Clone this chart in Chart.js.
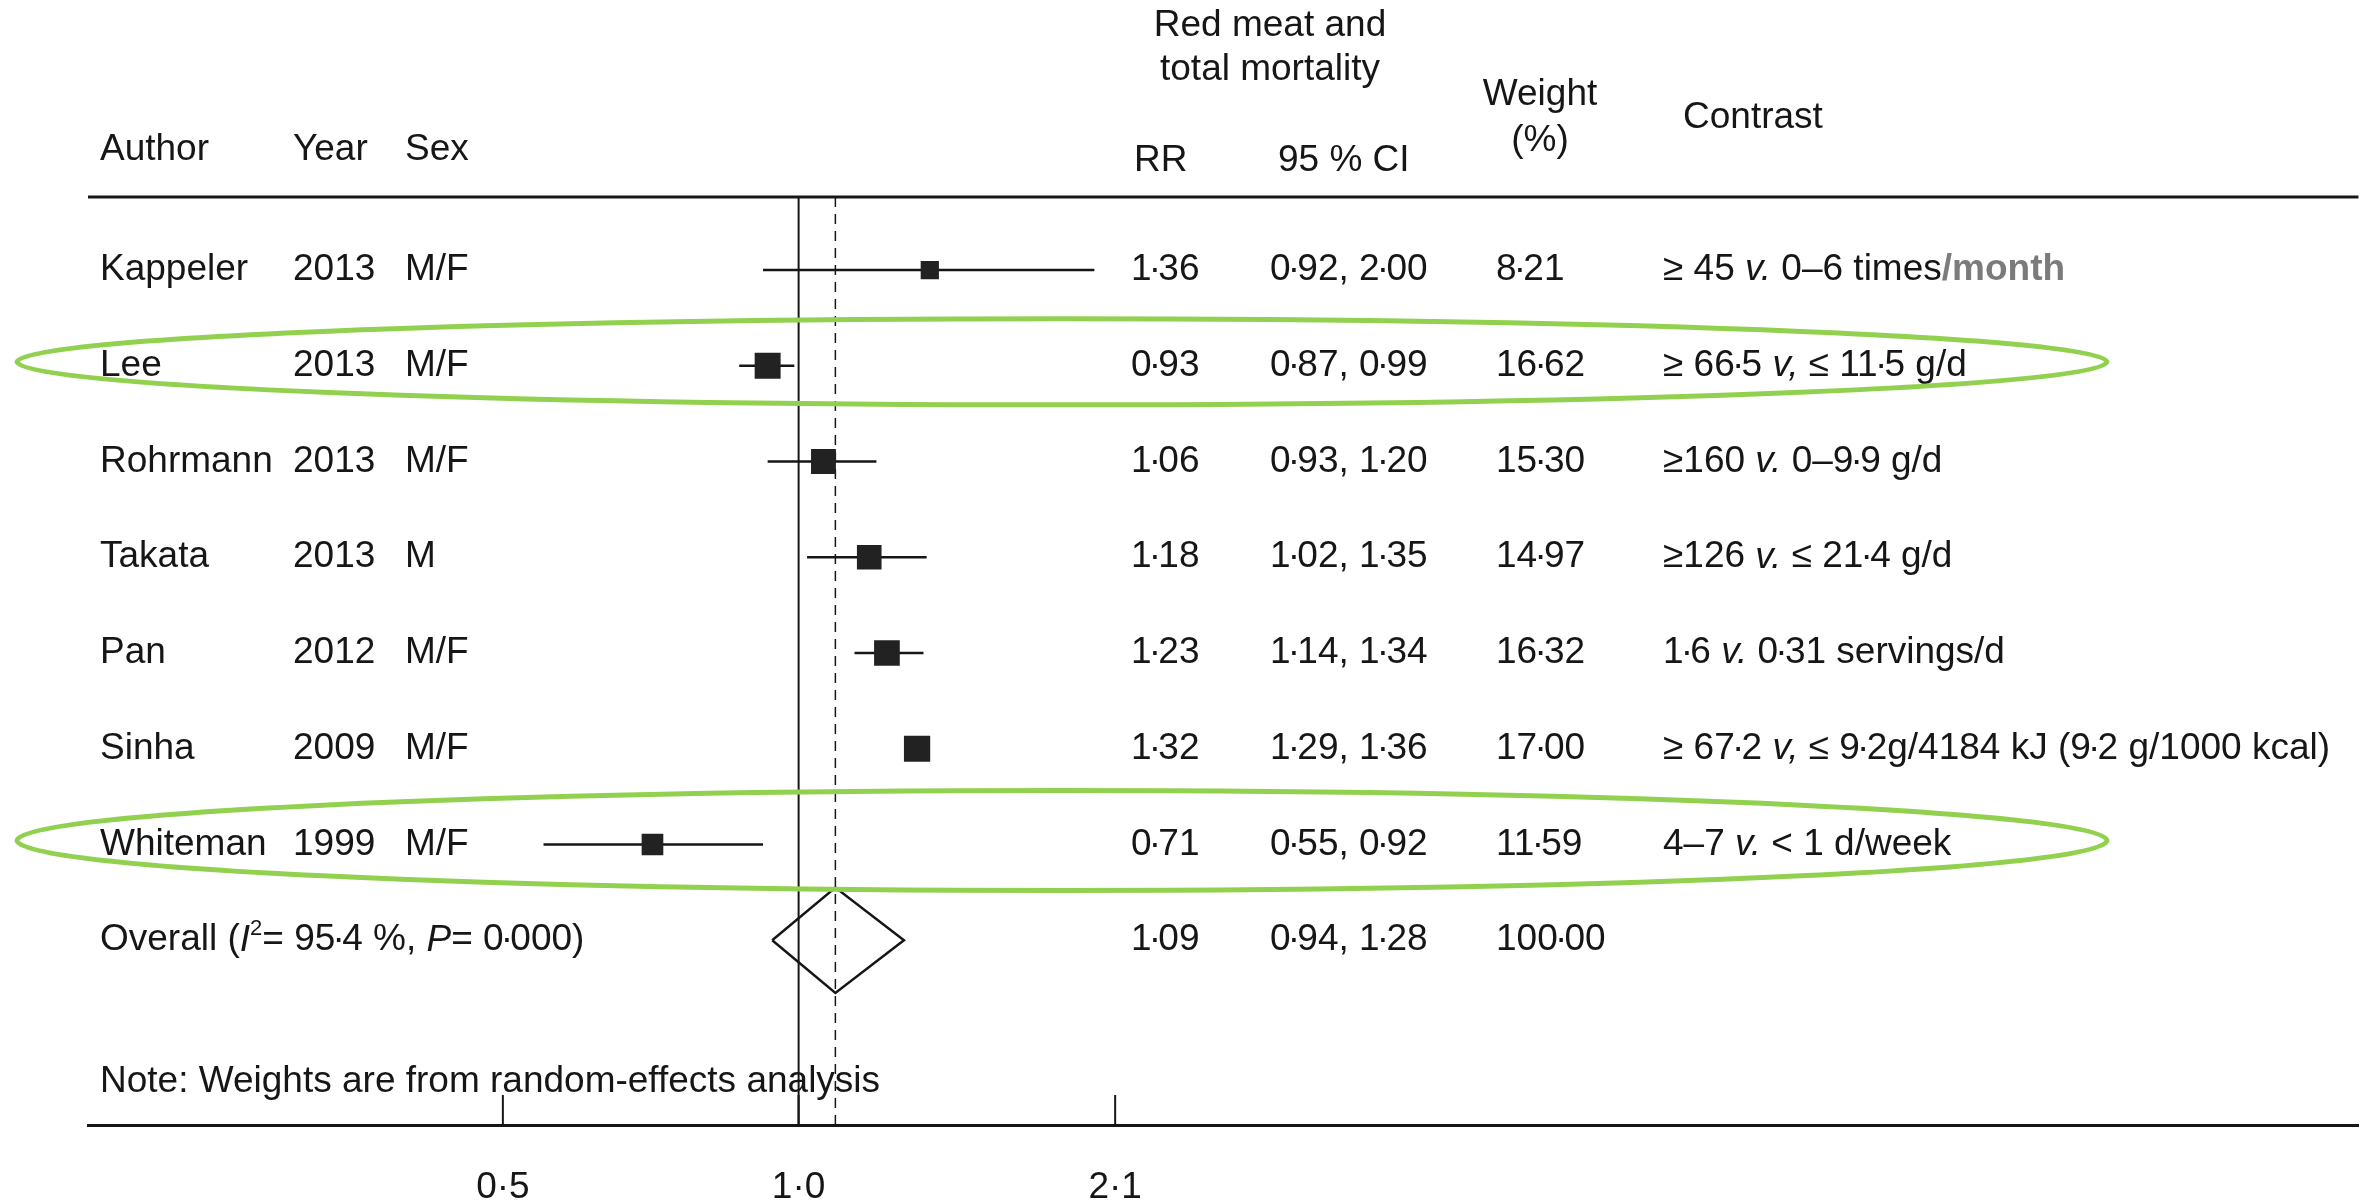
<!DOCTYPE html>
<html lang="en">
<head>
<meta charset="UTF-8">
<title>Red meat and total mortality</title>
<script src="https://cdn.jsdelivr.net/npm/chart.js"></script>
<style>
  html, body { margin: 0; padding: 0; background: #fff; }
  .wrap { position: relative; width: 2377px; height: 1200px; }
</style>
</head>
<body>
<div class="wrap"><canvas id="forest"></canvas></div>
<script>
// studies, top to bottom
const authors = ['Kappeler', 'Lee', 'Rohrmann', 'Takata', 'Pan', 'Sinha', 'Whiteman'];
const years = [2013, 2013, 2013, 2013, 2012, 2009, 1999];
const sexes = ['M/F', 'M/F', 'M/F', 'M', 'M/F', 'M/F', 'M/F'];
const rr = [1.36, 0.93, 1.06, 1.18, 1.23, 1.32, 0.71];
const ciLow = [0.92, 0.87, 0.93, 1.02, 1.14, 1.29, 0.55];
const ciHigh = [2.00, 0.99, 1.20, 1.35, 1.34, 1.36, 0.92];
const weights = [8.21, 16.62, 15.30, 14.97, 16.32, 17.00, 11.59];
const contrasts = [
  '≥ 45 v. 0–6 times/month',
  '≥ 66·5 v, ≤ 11·5 g/d',
  '≥160 v. 0–9·9 g/d',
  '≥126 v. ≤ 21·4 g/d',
  '1·6 v. 0·31 servings/d',
  '≥ 67·2 v, ≤ 9·2g/4184 kJ (9·2 g/1000 kcal)',
  '4–7 v. < 1 d/week'
];
// pooled (random effects)
const overallRR = 1.09;
const overallLow = 0.94;
const overallHigh = 1.28;
const overallWeight = 100.00;
const iSquared = 95.4;
const pValue = 0.000;
// x axis
const xTicks = [0.5, 1.0, 2.1];
// rows circled in green
const circled = ['Lee', 'Whiteman'];

const FAMILY = '"Liberation Sans", Arial, sans-serif';
const FS = 37;
const INK = '#161616';
const fmt = (v, d) => v.toFixed(d).replace('.', '·');

const overallRow = authors.length;
const yMin = -0.763, yMax = 8.93;

// columns (px)
const col = { author: 100, year: 293, sex: 405, rr: 1131, ci: 1270, weight: 1496, contrast: 1663 };

function setFont(ctx, seg, size) {
  ctx.font = (seg.italic ? 'italic ' : '') + (seg.bold ? 'bold ' : '') + size + 'px ' + FAMILY;
}

// text with a tight decimal point (the journal's raised dot is narrow)
function drawText(ctx, str, x, y) {
  const parts = str.split('·');
  const dotW = ctx.measureText('·').width;
  const adv = dotW * 0.55;
  let cx = x;
  parts.forEach((p, k) => {
    if (k > 0) {
      ctx.fillText('·', cx - (dotW - adv) / 2, y);
      cx += adv;
    }
    ctx.fillText(p, cx, y);
    cx += ctx.measureText(p).width;
  });
  return cx - x;
}

// draw a list of text pieces one after another
function drawRich(ctx, x, y, segs) {
  let cx = x;
  segs.forEach(s => {
    const size = s.sup ? Math.round(FS * 0.6) : FS;
    setFont(ctx, s, size);
    ctx.fillStyle = s.color || INK;
    cx += drawText(ctx, s.t, cx, s.sup ? y - FS * 0.3 : y);
  });
}

function contrastSegs(str) {
  const out = [];
  str.split(/( v[.,] |\/month)/).filter(Boolean).forEach(p => {
    if (/^ v[.,] $/.test(p)) {
      out.push({ t: ' ' }, { t: p.trim(), italic: true }, { t: ' ' });
    } else if (p === '/month') {
      out.push({ t: p, color: '#7b7b7b', bold: true });
    } else {
      out.push({ t: p });
    }
  });
  return out;
}

const tablePlugin = {
  id: 'table',
  afterDatasetsDraw(chart) {
    const ctx = chart.ctx;
    const area = chart.chartArea;
    const y = chart.scales.y;
    const x = chart.scales.x;
    ctx.save();
    ctx.textBaseline = 'middle';

    // header rule
    ctx.strokeStyle = INK;
    ctx.lineWidth = 3;
    ctx.beginPath();
    ctx.moveTo(area.left, area.top);
    ctx.lineTo(area.right, area.top);
    ctx.stroke();

    // tick marks pointing up from the axis
    ctx.lineWidth = 2;
    x.ticks.forEach(t => {
      const px = x.getPixelForValue(t.value);
      ctx.beginPath();
      ctx.moveTo(px, area.bottom);
      ctx.lineTo(px, area.bottom - 30);
      ctx.stroke();
    });

    // header text
    ctx.fillStyle = INK;
    ctx.font = FS + 'px ' + FAMILY;
    ctx.textAlign = 'center';
    ctx.fillText('Red meat and', 1270, 26);
    ctx.fillText('total mortality', 1270, 70);
    ctx.fillText('Weight', 1540, 95);
    ctx.fillText('(%)', 1540, 141);
    ctx.textAlign = 'left';
    ctx.fillText('Author', col.author, 150);
    ctx.fillText('Year', col.year, 150);
    ctx.fillText('Sex', col.sex, 150);
    ctx.fillText('Contrast', 1683, 118);
    ctx.fillText('RR', 1134, 161);
    ctx.fillText('95 % CI', 1278, 161);

    // study rows
    authors.forEach((a, i) => {
      const py = y.getPixelForValue(i);
      ctx.font = FS + 'px ' + FAMILY;
      ctx.fillStyle = INK;
      ctx.fillText(a, col.author, py);
      ctx.fillText(String(years[i]), col.year, py);
      ctx.fillText(sexes[i], col.sex, py);
      drawText(ctx, fmt(rr[i], 2), col.rr, py);
      drawText(ctx, fmt(ciLow[i], 2) + ', ' + fmt(ciHigh[i], 2), col.ci, py);
      drawText(ctx, fmt(weights[i], 2), col.weight, py);
      drawRich(ctx, col.contrast, py, contrastSegs(contrasts[i]));
    });

    // overall row
    const oy = y.getPixelForValue(overallRow);
    drawRich(ctx, col.author, oy, [
      { t: 'Overall (' }, { t: 'I', italic: true }, { t: '2', sup: true },
      { t: '= ' + fmt(iSquared, 1) + ' %, ' }, { t: 'P', italic: true },
      { t: '= ' + fmt(pValue, 3) + ')' }
    ]);
    ctx.font = FS + 'px ' + FAMILY;
    ctx.fillStyle = INK;
    drawText(ctx, fmt(overallRR, 2), col.rr, oy);
    drawText(ctx, fmt(overallLow, 2) + ', ' + fmt(overallHigh, 2), col.ci, oy);
    drawText(ctx, fmt(overallWeight, 2), col.weight, oy);

    ctx.fillText('Note: Weights are from random-effects analysis', col.author, y.getPixelForValue(8.48));

    // green rings
    ctx.strokeStyle = '#92d050';
    ctx.lineWidth = 5;
    const ry = { Lee: 43, Whiteman: 50 };
    circled.forEach(name => {
      const i = authors.indexOf(name);
      const py = y.getPixelForValue(i) - 4;
      ctx.beginPath();
      ctx.ellipse(1062, py, 1045, ry[name] || 45, 0, 0, Math.PI * 2);
      ctx.stroke();
    });
    ctx.restore();
  }
};

const datasets = [];
// confidence intervals
authors.forEach((a, i) => {
  datasets.push({
    label: a + ' CI',
    data: [{ x: ciLow[i], y: i }, { x: ciHigh[i], y: i }],
    showLine: true,
    borderColor: INK,
    borderWidth: 2.5,
    pointRadius: 0,
    order: 2
  });
});
// point estimates, box area proportional to weight
datasets.push({
  label: 'RR',
  data: rr.map((v, i) => ({ x: v, y: i })),
  pointStyle: 'rect',
  pointRadius: c => 4.5 * Math.sqrt(weights[c.dataIndex]),
  pointHoverRadius: c => 4.5 * Math.sqrt(weights[c.dataIndex]),
  backgroundColor: '#222',
  borderColor: '#222',
  borderWidth: 0,
  order: 1
});
// line of no effect
datasets.push({
  label: 'null',
  data: [{ x: 1, y: yMin }, { x: 1, y: yMax }],
  showLine: true,
  borderColor: INK,
  borderWidth: 2,
  pointRadius: 0,
  order: 3
});
// pooled estimate (dashed)
datasets.push({
  label: 'pooled line',
  data: [{ x: overallRR, y: yMin }, { x: overallRR, y: yMax }],
  showLine: true,
  borderColor: INK,
  borderWidth: 1.5,
  borderDash: [10, 7],
  pointRadius: 0,
  order: 3
});
// diamond
datasets.push({
  label: 'Overall',
  data: [
    { x: overallLow, y: overallRow },
    { x: overallRR, y: overallRow - 0.55 },
    { x: overallHigh, y: overallRow },
    { x: overallRR, y: overallRow + 0.55 },
    { x: overallLow, y: overallRow }
  ],
  showLine: true,
  borderColor: INK,
  borderWidth: 2.5,
  borderJoinStyle: 'miter',
  pointRadius: 0,
  order: 1
});

new Chart(document.getElementById('forest'), {
  type: 'scatter',
  data: { datasets: datasets },
  options: {
    responsive: true,
    maintainAspectRatio: false,
    animation: false,
    events: [],
    layout: { padding: { left: 88, right: 17, top: 197, bottom: 0 } },
    plugins: { legend: { display: false }, tooltip: { enabled: false } },
    scales: {
      x: {
        type: 'logarithmic',
        min: 0.1891,
        max: 38.7,
        bounds: 'data',
        afterBuildTicks: s => { s.ticks = xTicks.map(v => ({ value: v })); },
        afterFit: s => { s.height = 75; },
        grid: { drawOnChartArea: false, drawTicks: false },
        border: { display: true, color: INK, width: 3 },
        ticks: {
          padding: 44,
          color: INK,
          font: { family: FAMILY, size: FS, lineHeight: 1 },
          maxRotation: 0,
          autoSkip: false,
          callback: v => fmt(v, 1)
        }
      },
      y: {
        type: 'linear',
        min: yMin,
        max: yMax,
        reverse: true,
        display: false
      }
    }
  },
  plugins: [tablePlugin]
});
</script>
</body>
</html>
